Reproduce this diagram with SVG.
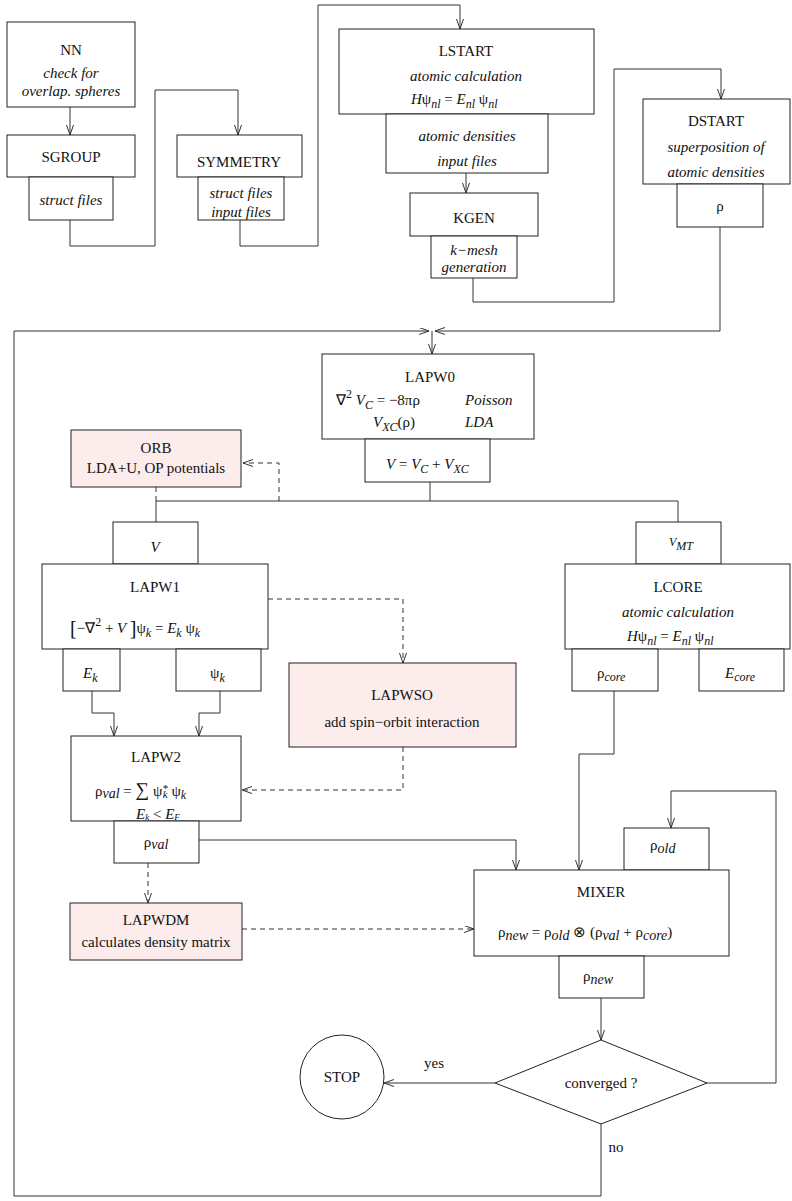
<svg xmlns="http://www.w3.org/2000/svg" width="792" height="1201" viewBox="0 0 792 1201" font-family="'Liberation Serif', serif">
<style>
text{font-family:'Liberation Serif','Times New Roman',Times,serif;font-size:15px;fill:#111}
.c{text-anchor:middle}
.i{font-style:italic}
.box{fill:#fff;stroke:#222;stroke-width:1}
.pink{fill:#fcecec;stroke:#222;stroke-width:1}
.ln{fill:none;stroke:#333;stroke-width:1}
.ar{fill:none;stroke:#333;stroke-width:1;marker-end:url(#ah)}
.da{fill:none;stroke:#333;stroke-width:1;stroke-dasharray:5,4}
.daa{fill:none;stroke:#333;stroke-width:1;stroke-dasharray:5,4;marker-end:url(#ah)}
</style>
<defs>
<marker id="ah" markerUnits="userSpaceOnUse" markerWidth="12" markerHeight="10" refX="10" refY="3.5" orient="auto">
<path d="M0,0 L10,3.5 L0,7" fill="none" stroke="#333" stroke-width="1" stroke-dasharray="none"/>
</marker>
</defs>
<rect width="792" height="1201" fill="#fff"/>

<g id="connectors">
<path class="ar" d="M70,107 V135"/>
<path class="ar" d="M70,220 V246 H155 V90 H238 V135"/>
<path class="ar" d="M240,220 V246 H318 V5 H460 V29"/>
<path class="ar" d="M466,173 V193"/>
<path class="ar" d="M473,278 V302 H614 V69 H721 V99"/>
<path class="ar" d="M720,227 V331 H435"/>
<path class="ar" d="M601,1124 V1196 H14 V331 H429"/>
<path class="ar" d="M432,331 V354"/>
<path class="ln" d="M430,482 V501"/>
<path class="ln" d="M156,501 H678 V522"/>
<path class="ln" d="M156,501 V522"/>
<path class="da" d="M156,487 V501"/>
<path class="daa" d="M279,501 V463 H243"/>
<path class="ar" d="M92,691 V713 H114 V736"/>
<path class="ar" d="M220,691 V713 H199 V736"/>
<path class="daa" d="M268,599 H403 V663"/>
<path class="daa" d="M403,747 V790 H242"/>
<path class="daa" d="M148,863 V903"/>
<path class="daa" d="M242,929 H474"/>
<path class="ar" d="M199,840 H516 V870"/>
<path class="ar" d="M614,691 V754 H579 V870"/>
<path class="ar" d="M707,1083 H776 V791 H671 V828"/>
<path class="ar" d="M601,998 V1040"/>
<path class="ar" d="M495,1083 H384"/>
<text x="434" y="1068" class="c">yes</text>
<text x="616" y="1152" class="c">no</text>
</g>

<g id="NN">
<rect class="box" x="7" y="22" width="128" height="85"/>
<text x="71" y="55" class="c">NN</text>
<text x="71" y="78" class="c i">check for</text>
<text x="71" y="96" class="c i">overlap. spheres</text>
</g>
<g id="SGROUP">
<rect class="box" x="7" y="135" width="128" height="42"/>
<text x="71" y="162" class="c">SGROUP</text>
<rect class="box" x="29" y="177" width="84" height="43"/>
<text x="71" y="205" class="c i">struct files</text>
</g>
<g id="SYMMETRY">
<rect class="box" x="177" y="135" width="125" height="42"/>
<text x="239" y="167" class="c">SYMMETRY</text>
<rect class="box" x="198" y="177" width="86" height="43"/>
<text x="241" y="198" class="c i">struct files</text>
<text x="241" y="217" class="c i">input files</text>
</g>
<g id="LSTART">
<rect class="box" x="339" y="29" width="255" height="85"/>
<text x="466" y="56" class="c">LSTART</text>
<text x="466" y="81" class="c i">atomic calculation</text>
<text x="411" y="104"><tspan class="i">H</tspan>ψ<tspan class="i" font-size="12" dy="4">nl</tspan><tspan dy="-4">  =  </tspan><tspan class="i">E</tspan><tspan class="i" font-size="12" dy="4">nl</tspan><tspan dy="-4"> ψ</tspan><tspan class="i" font-size="12" dy="4">nl</tspan></text>
<rect class="box" x="386" y="114" width="162" height="59"/>
<text x="467" y="141" class="c i">atomic densities</text>
<text x="467" y="166" class="c i">input files</text>
</g>
<g id="KGEN">
<rect class="box" x="410" y="193" width="128" height="43"/>
<text x="474" y="223" class="c">KGEN</text>
<rect class="box" x="431" y="236" width="86" height="42"/>
<text x="474" y="255" class="c i">k−mesh</text>
<text x="474" y="272" class="c i">generation</text>
</g>
<g id="DSTART">
<rect class="box" x="643" y="99" width="147" height="85"/>
<text x="716" y="126" class="c">DSTART</text>
<text x="716" y="152" class="c i">superposition of</text>
<text x="716" y="177" class="c i">atomic densities</text>
<rect class="box" x="677" y="184" width="86" height="43"/>
<text x="720" y="211" class="c">ρ</text>
</g>
<g id="LAPW0">
<rect class="box" x="322" y="354" width="212" height="85"/>
<text x="430" y="382" class="c">LAPW0</text>
<text x="336" y="405">∇<tspan font-size="12" dy="-7">2</tspan><tspan class="i" dy="7"> V</tspan><tspan class="i" font-size="12" dy="4">C</tspan><tspan dy="-4"> = −8πρ</tspan></text>
<text x="465" y="405" class="i">Poisson</text>
<text x="373" y="427"><tspan class="i">V</tspan><tspan class="i" font-size="12" dy="4">XC</tspan><tspan dy="-4">(ρ)</tspan></text>
<text x="465" y="427" class="i">LDA</text>
<rect class="box" x="365" y="439" width="125" height="43"/>
<text x="386" y="469"><tspan class="i">V</tspan> = <tspan class="i">V</tspan><tspan class="i" font-size="12" dy="4">C</tspan><tspan dy="-4"> + </tspan><tspan class="i">V</tspan><tspan class="i" font-size="12" dy="4">XC</tspan></text>
</g>
<g id="ORB">
<rect class="pink" x="71" y="430" width="170" height="57"/>
<text x="156" y="453" class="c">ORB</text>
<text x="156" y="473" class="c">LDA+U, OP potentials</text>
</g>
<g id="LAPW1">
<rect class="box" x="113" y="522" width="85" height="42"/>
<text x="155" y="552" class="c i">V</text>
<rect class="box" x="42" y="564" width="226" height="85"/>
<text x="155" y="592" class="c">LAPW1</text>
<text x="70" y="633"><tspan font-size="20" dy="2">[</tspan><tspan dy="-2">−∇</tspan><tspan font-size="12" dy="-7">2</tspan><tspan dy="7"> + </tspan><tspan class="i">V  </tspan><tspan font-size="20" dy="2"> ]</tspan><tspan dy="-2">ψ</tspan><tspan class="i" font-size="12" dy="4">k</tspan><tspan dy="-4"> = </tspan><tspan class="i">E</tspan><tspan class="i" font-size="12" dy="4">k</tspan><tspan dy="-4"> ψ</tspan><tspan class="i" font-size="12" dy="4">k</tspan></text>
<rect class="box" x="63" y="649" width="57" height="42"/>
<text x="83" y="678" class="i">E<tspan font-size="12" dy="4">k</tspan></text>
<rect class="box" x="176" y="649" width="85" height="42"/>
<text x="210" y="678">ψ<tspan class="i" font-size="12" dy="4">k</tspan></text>
</g>
<g id="LAPWSO">
<rect class="pink" x="289" y="663" width="227" height="84"/>
<text x="402" y="700" class="c">LAPWSO</text>
<text x="402" y="727" class="c">add spin−orbit interaction</text>
</g>
<g id="LCORE">
<rect class="box" x="636" y="522" width="85" height="42"/>
<text x="669" y="549"><tspan class="i" font-size="12" dy="-3">V</tspan><tspan class="i" font-size="12" dy="4">MT</tspan></text>
<rect class="box" x="565" y="564" width="225" height="85"/>
<text x="678" y="592" class="c">LCORE</text>
<text x="678" y="617" class="c i">atomic calculation</text>
<text x="627" y="641"><tspan class="i">H</tspan>ψ<tspan class="i" font-size="12" dy="4">nl</tspan><tspan dy="-4">  =  </tspan><tspan class="i">E</tspan><tspan class="i" font-size="12" dy="4">nl</tspan><tspan dy="-4"> ψ</tspan><tspan class="i" font-size="12" dy="4">nl</tspan></text>
<rect class="box" x="572" y="649" width="86" height="42"/>
<text x="597" y="678">ρ<tspan class="i" font-size="12" dy="3">core</tspan></text>
<rect class="box" x="699" y="649" width="85" height="42"/>
<text x="725" y="678" class="i">E<tspan font-size="12" dy="3">core</tspan></text>
</g>
<g id="LAPW2">
<rect class="box" x="71" y="736" width="170" height="85"/>
<text x="156" y="762" class="c">LAPW2</text>
<text x="95" y="796">ρ<tspan class="i" font-size="14" dy="2">val</tspan><tspan dy="-2">  = </tspan><tspan font-size="19">∑</tspan><tspan> ψ</tspan><tspan class="i" font-size="11" dy="-4">*</tspan><tspan class="i" font-size="11" dx="-5" dy="6">k</tspan><tspan dy="-2"> ψ</tspan><tspan class="i" font-size="12" dy="3">k</tspan></text>
<text x="136" y="819" font-size="11"><tspan class="i">E</tspan><tspan class="i" font-size="9" dy="1">k</tspan><tspan dy="-1">  &lt; </tspan><tspan class="i">E</tspan><tspan class="i" font-size="9" dy="1">F</tspan></text>
<rect class="box" x="114" y="821" width="85" height="42"/>
<text x="156" y="847" class="c">ρ<tspan class="i" font-size="14" dy="2">val</tspan></text>
</g>
<g id="LAPWDM">
<rect class="pink" x="70" y="903" width="172" height="57"/>
<text x="156" y="925" class="c">LAPWDM</text>
<text x="156" y="947" class="c">calculates density matrix</text>
</g>
<g id="MIXER">
<rect class="box" x="624" y="828" width="85" height="42"/>
<text x="650" y="850">ρ<tspan class="i" font-size="14" dy="3">old</tspan></text>
<rect class="box" x="474" y="870" width="255" height="86"/>
<text x="601" y="897" class="c">MIXER</text>
<text x="498" y="937">ρ<tspan class="i" font-size="14" dy="3">new</tspan><tspan dy="-3"> = ρ</tspan><tspan class="i" font-size="14" dy="3">old</tspan><tspan dy="-3"> ⊗ (ρ</tspan><tspan class="i" font-size="14" dy="3">val</tspan><tspan dy="-3"> + ρ</tspan><tspan class="i" font-size="14" dy="3">core</tspan><tspan dy="-3">)</tspan></text>
<rect class="box" x="559" y="956" width="85" height="42"/>
<text x="583" y="981">ρ<tspan class="i" font-size="14" dy="3">new</tspan></text>
</g>
<g id="converged">
<polygon class="box" points="601,1040 707,1083 601,1124 495,1083"/>
<text x="601" y="1088" class="c">converged ?</text>
</g>
<g id="STOP">
<circle class="box" cx="342" cy="1077" r="42"/>
<text x="342" y="1082" class="c">STOP</text>
</g>
</svg>
